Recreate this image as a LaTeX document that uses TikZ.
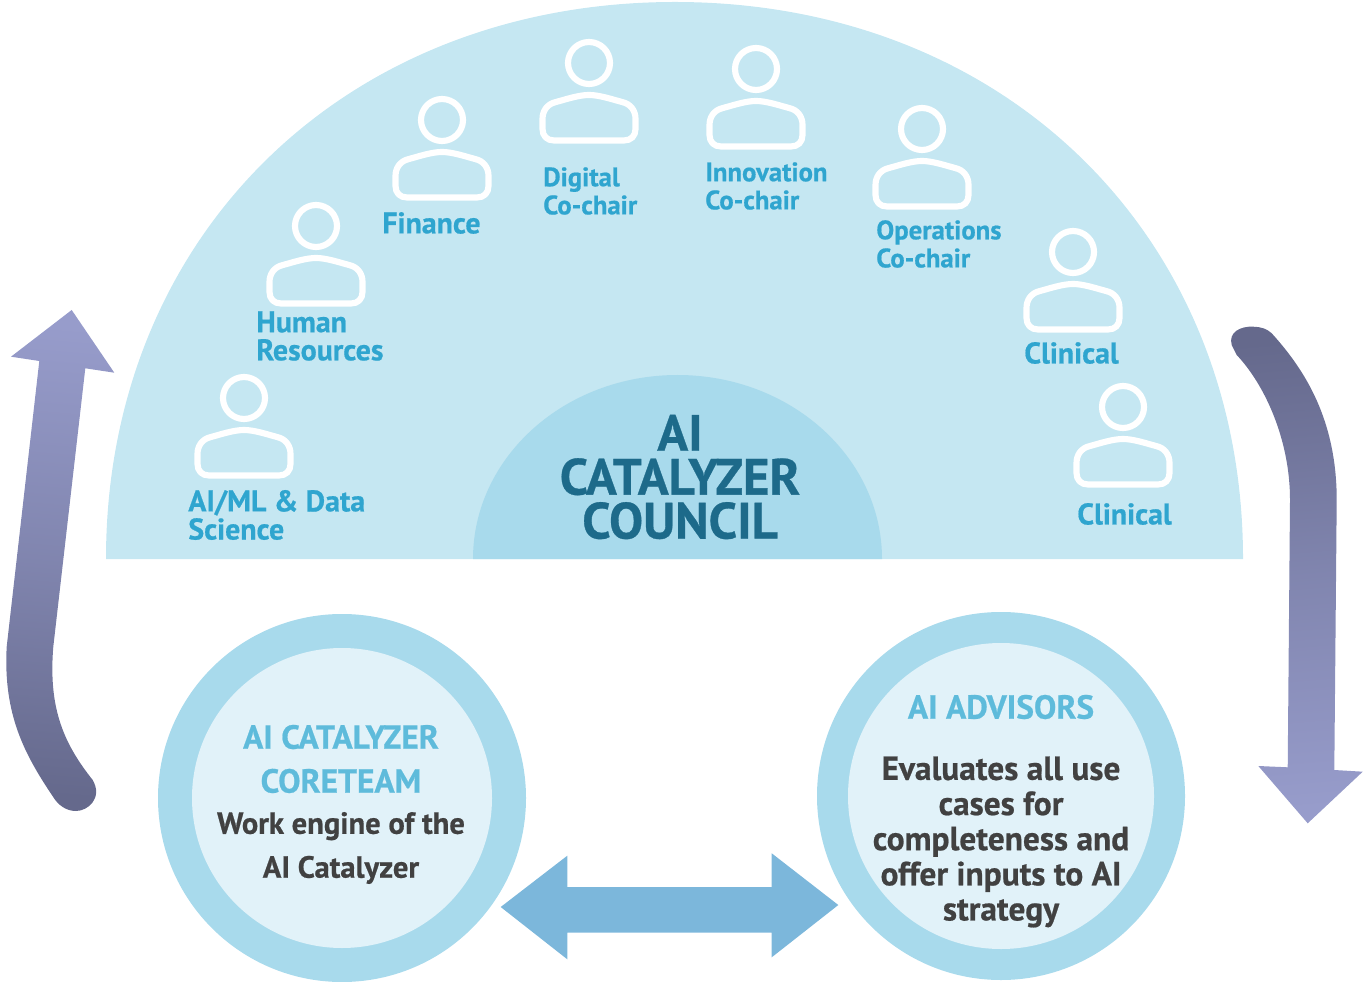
\documentclass[tikz,border=0pt]{standalone}
\usepackage{fontspec}
\setmainfont[BoldFeatures={FakeBold=0.6}]{PT Sans}
\definecolor{domepale}{HTML}{C5E7F2}
\definecolor{domedeep}{HTML}{A8DAEC}
\definecolor{ringpale}{HTML}{E1F2F9}
\definecolor{labelblue}{HTML}{2FA5CF}
\definecolor{headblue}{HTML}{5EBBDB}
\definecolor{councilblue}{HTML}{1D6A8A}
\definecolor{bodygrey}{HTML}{414141}
\definecolor{linkblue}{HTML}{7CB7DB}
\definecolor{flowdark}{HTML}{65698C}
\definecolor{flowlight}{HTML}{979CCB}
\tikzset{
  memberlabel/.style={anchor=west, align=left, inner sep=0pt, text=labelblue,
    font=\fontsize{17}{16}\selectfont\bfseries},
  slimlabel/.style={memberlabel, font=\fontsize{15.2}{16}\selectfont\bfseries},
  outline/.style={draw=white, line width=3.5pt, line join=round},
  headtext/.style={align=center, inner sep=0pt, text=headblue,
    font=\fontsize{19}{25}\selectfont\bfseries},
  bodytext/.style={align=center, inner sep=0pt, text=bodygrey,
    font=\fontsize{19}{20}\selectfont\bfseries}
}
\begin{document}
\begin{tikzpicture}[x=0.02cm, y=-0.02cm]
  \useasboundingbox (0,0) rectangle (1364,982);

  % Council dome
  \fill[domepale] (106,559) .. controls (106,236) and (345,2) .. (675,2)
    .. controls (1005,2) and (1243,236) .. (1243,559) -- cycle;
  \fill[domedeep] (473,559) arc[start angle=180, end angle=360, x radius=204.5, y radius=184] -- cycle;
  \node[align=center, inner sep=0pt, text=councilblue, font=\fontsize{29}{25}\selectfont\bfseries]
    (council) at (680,477) {AI\\CATALYZER\\COUNCIL};

  % Members
  \foreach \px/\py in {244/398, 316/226, 442/120, 589/63, 756/69, 922/129, 1073/252, 1123/407}{
    \draw[outline] (\px,\py) circle (21);
    \draw[outline] (\px,\py+32) .. controls (\px-10,\py+32) and (\px-22,\py+36) .. (\px-33,\py+39)
      .. controls (\px-42,\py+41) and (\px-46.5,\py+48) .. (\px-46.5,\py+56)
      -- (\px-46.5,\py+66) .. controls (\px-46.5,\py+73) and (\px-42,\py+77.5) .. (\px-35,\py+77.5)
      -- (\px+35,\py+77.5) .. controls (\px+42,\py+77.5) and (\px+46.5,\py+73) .. (\px+46.5,\py+66)
      -- (\px+46.5,\py+56) .. controls (\px+46.5,\py+48) and (\px+42,\py+41) .. (\px+33,\py+39)
      .. controls (\px+22,\py+36) and (\px+10,\py+32) .. (\px,\py+32) -- cycle;
  }
  \node[memberlabel] (aiml) at (188,515) {AI/ML \& Data\\Science};
  \node[memberlabel] (hr) at (256,336) {Human\\Resources};
  \node[memberlabel] (finance) at (382,223) {Finance};
  \node[slimlabel] (digital) at (543,191) {Digital\\Co-chair};
  \node[slimlabel] (innovation) at (705,186) {Innovation\\Co-chair};
  \node[slimlabel] (operations) at (876,244) {Operations\\Co-chair};
  \node[memberlabel] (clinicala) at (1024,353) {Clinical};
  \node[memberlabel] (clinicalb) at (1077,514) {Clinical};

  % Core team circle
  \fill[domedeep] (342,798) circle (184);
  \fill[ringpale] (342,798) circle (150);
  \node[headtext] (corehead) at (341,759) {AI CATALYZER\\CORETEAM};
  \node[bodytext, font=\fontsize{17.4}{25}\selectfont\bfseries] (corebody) at (341,848) {Work engine of the\\AI Catalyzer};

  % Advisors circle
  \fill[domedeep] (1001,796) circle (184);
  \fill[ringpale] (1001,796) circle (153);
  \node[headtext] (advisorhead) at (1001,707) {AI ADVISORS};
  \node[bodytext] (advisorbody) at (1001,842) {Evaluates all use\\cases for\\completeness and\\offer inputs to AI\\strategy};

  % Link between circles
  \fill[linkblue] (500.7,907) -- (567.3,855.7) -- (567.3,887) -- (771.7,887) -- (771.7,853.3)
    -- (838.3,905) -- (771.7,957.3) -- (771.7,932.7) -- (567.3,932.7) -- (567.3,959.3) -- cycle;

  % Flow up on the left
  \shade[top color=flowlight, bottom color=flowdark, middle color=flowlight!55!flowdark, shading angle=-5]
    (71.7,310) -- (114.3,372.7) -- (85.3,368.3) -- (53.3,646.7)
    .. controls (48,710) and (65,745) .. (92.7,780)
    .. controls (103,798) and (88,811) .. (76,811)
    .. controls (66,811) and (58,805) .. (53,796.7)
    .. controls (25,755) and (3,715) .. (6.7,646.7)
    -- (39.3,361) -- (11,356.7) -- cycle;

  % Flow down on the right
  \shade[top color=flowdark, bottom color=flowlight, middle color=flowlight!55!flowdark, shading angle=5]
    (1231.7,345) .. controls (1228,332) and (1241,326) .. (1253,326.7)
    .. controls (1262,327) and (1267,329) .. (1271.7,333.3)
    .. controls (1305,370) and (1336.7,420) .. (1336.7,500)
    -- (1334.3,770) -- (1362.7,771.7) -- (1307.7,823.3) -- (1258.3,766) -- (1287.7,767.3)
    -- (1290,500) .. controls (1290,440) and (1265,385) .. (1236.7,355) -- cycle;
\end{tikzpicture}
\end{document}
